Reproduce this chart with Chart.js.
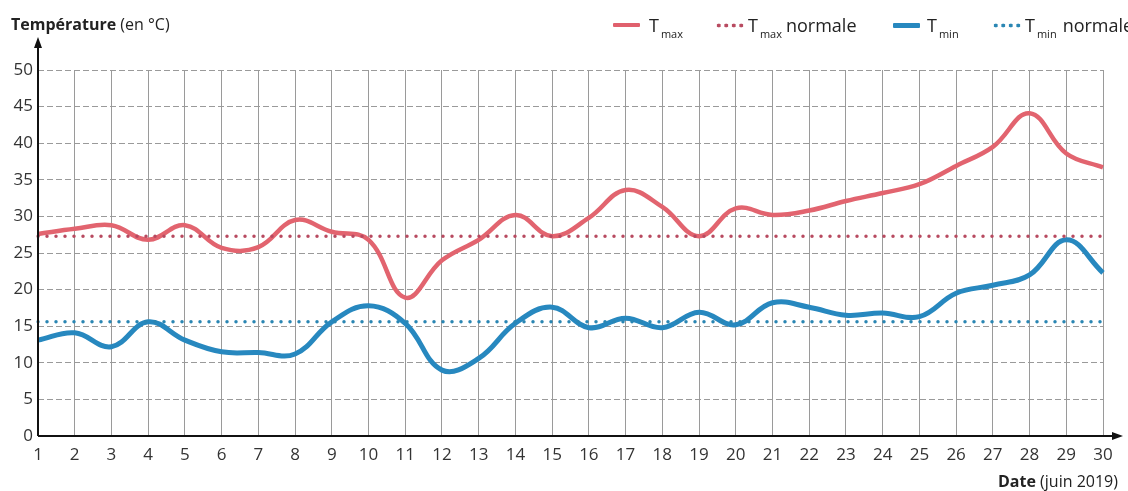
<!DOCTYPE html>
<html lang="fr">
<head>
<meta charset="utf-8">
<title>Températures juin 2019</title>
<script src="https://cdn.jsdelivr.net/npm/chart.js@4.4.1/dist/chart.umd.min.js"></script>
<style>
    html, body { margin: 0; padding: 0; background: #fff; }
    body { font-family: "Open Sans", "Noto Sans", sans-serif; color: #222; }
    #wrap { position: relative; width: 1128px; height: 491px; overflow: hidden; }
    #chart { position: absolute; left: 0; top: 0; }
    .txt { position: absolute; white-space: nowrap; font-size: 16px; line-height: 1; }
    .txt b { font-weight: 700; }
    .leg { position: absolute; top: 16px; font-size: 18px; line-height: 1; white-space: nowrap; color: #222; }
    .leg sub { font-size: 11px; vertical-align: -6px; margin-left: 2px; margin-right: 4px; }
    .sample { position: absolute; top: 23px; width: 27px; height: 5px; }
    .plein { border-radius: 1px; }
    .points { background-size: 7.5px 5px; background-repeat: repeat-x; }
</style>
</head>
<body>
<div id="wrap">
    <canvas id="chart" width="1128" height="491"></canvas>

    <div class="txt" style="left:11px; top:16px;"><b>Température</b> (en °C)</div>
    <div class="txt" style="left:998px; top:473px;"><b>Date</b> (juin 2019)</div>

    <!-- legende -->
    <div class="sample plein" style="left:613px; height:4px; background:#e0606d;"></div>
    <div class="leg" style="left:649px;">T<sub>max</sub></div>
    <div class="sample points" style="left:715px; width:31px; background-image:radial-gradient(circle, #b84a60 1.7px, transparent 2.2px);"></div>
    <div class="leg" style="left:748px;">T<sub>max</sub>normale</div>
    <div class="sample plein" style="left:893px; height:5px; background:#2788bf;"></div>
    <div class="leg" style="left:927px;">T<sub>min</sub></div>
    <div class="sample points" style="left:992px; width:31px; background-image:radial-gradient(circle, #2a86b3 1.7px, transparent 2.2px);"></div>
    <div class="leg" style="left:1025px;">T<sub style="margin-right:6px;">min</sub>normale</div>
</div>

<script>
// data (°C)
const jours = ['1','2','3','4','5','6','7','8','9','10','11','12','13','14','15',
               '16','17','18','19','20','21','22','23','24','25','26','27','28','29','30'];
const tMax = [27.6, 28.3, 28.8, 26.8, 28.8, 25.7, 25.8, 29.5, 27.9, 26.8,
              18.9, 24.0, 26.8, 30.2, 27.3, 29.8, 33.6, 31.3, 27.3, 31.1,
              30.2, 30.8, 32.1, 33.2, 34.4, 36.9, 39.5, 44.1, 38.6, 36.7];
const tMin = [13.1, 14.1, 12.2, 15.6, 13.1, 11.5, 11.4, 11.2, 15.6, 17.8,
              15.4, 9.0, 10.6, 15.4, 17.6, 14.8, 16.1, 14.8, 16.9, 15.2,
              18.2, 17.6, 16.5, 16.8, 16.3, 19.5, 20.6, 22.0, 26.8, 22.3];
const tMaxNormale = [27.3, 27.3, 27.3, 27.3, 27.3, 27.3, 27.3, 27.3, 27.3, 27.3,
                     27.3, 27.3, 27.3, 27.3, 27.3, 27.3, 27.3, 27.3, 27.3, 27.3,
                     27.3, 27.3, 27.3, 27.3, 27.3, 27.3, 27.3, 27.3, 27.3, 27.3];
const tMinNormale = [15.6, 15.6, 15.6, 15.6, 15.6, 15.6, 15.6, 15.6, 15.6, 15.6,
                     15.6, 15.6, 15.6, 15.6, 15.6, 15.6, 15.6, 15.6, 15.6, 15.6,
                     15.6, 15.6, 15.6, 15.6, 15.6, 15.6, 15.6, 15.6, 15.6, 15.6];
const yTicks = [0, 5, 10, 15, 20, 25, 30, 35, 40, 45, 50];

// fleches des axes
const axesFleches = {
    id: 'axesFleches',
    afterDatasetsDraw(chart) {
        const ctx = chart.ctx;
        const a = chart.chartArea;
        ctx.save();
        ctx.strokeStyle = '#111';
        ctx.fillStyle = '#111';
        ctx.lineWidth = 2;
        ctx.beginPath();
        ctx.moveTo(a.left, a.bottom);
        ctx.lineTo(a.left, a.top - 26);
        ctx.moveTo(a.left, a.bottom);
        ctx.lineTo(a.right + 12, a.bottom);
        ctx.stroke();
        // pointe verticale
        ctx.beginPath();
        ctx.moveTo(a.left, a.top - 33);
        ctx.lineTo(a.left - 4, a.top - 22);
        ctx.lineTo(a.left + 4, a.top - 22);
        ctx.closePath();
        ctx.fill();
        // pointe horizontale
        ctx.beginPath();
        ctx.moveTo(a.right + 20, a.bottom);
        ctx.lineTo(a.right + 9, a.bottom - 4);
        ctx.lineTo(a.right + 9, a.bottom + 4);
        ctx.closePath();
        ctx.fill();
        ctx.restore();
    }
};

const pointille = {
    borderWidth: 3.5,
    borderDash: [0, 9],
    borderCapStyle: 'round',
    pointRadius: 0,
    tension: 0
};

new Chart(document.getElementById('chart').getContext('2d'), {
    type: 'line',
    data: {
        labels: jours,
        datasets: [
            Object.assign({ label: 'Tmax normale', data: tMaxNormale, borderColor: '#b84a60' }, pointille),
            Object.assign({ label: 'Tmin normale', data: tMinNormale, borderColor: '#2a86b3' }, pointille),
            {
                label: 'Tmax', data: tMax,
                borderColor: '#e2646f', borderWidth: 4.5,
                pointRadius: 0, tension: 0.4
            },
            {
                label: 'Tmin', data: tMin,
                borderColor: '#2788bf', borderWidth: 5,
                pointRadius: 0, tension: 0.4
            }
        ]
    },
    options: {
        responsive: false,
        animation: false,
        layout: { padding: { top: 70, right: 25, left: 0, bottom: 0 } },
        plugins: {
            legend: { display: false },
            tooltip: { enabled: false }
        },
        scales: {
            x: {
                offset: false,
                afterFit: (scale) => { scale.height = 55; },
                grid: { color: '#9a9a9a', lineWidth: 1, drawTicks: false, offset: false },
                border: { display: false },
                ticks: {
                    color: '#333', padding: 9, maxRotation: 0, autoSkip: false,
                    font: { family: "'Open Sans', 'Noto Sans', sans-serif", size: 17 }
                }
            },
            y: {
                min: 0, max: 50,
                afterFit: (scale) => { scale.width = 38; },
                afterBuildTicks: (scale) => { scale.ticks = yTicks.map(v => ({ value: v })); },
                grid: { color: '#9a9a9a', lineWidth: 1, drawTicks: false },
                border: { display: false, dash: [6, 3] },
                ticks: {
                    color: '#333', padding: 5,
                    font: { family: "'Open Sans', 'Noto Sans', sans-serif", size: 17 }
                }
            }
        }
    },
    plugins: [axesFleches]
});
</script>
</body>
</html>
